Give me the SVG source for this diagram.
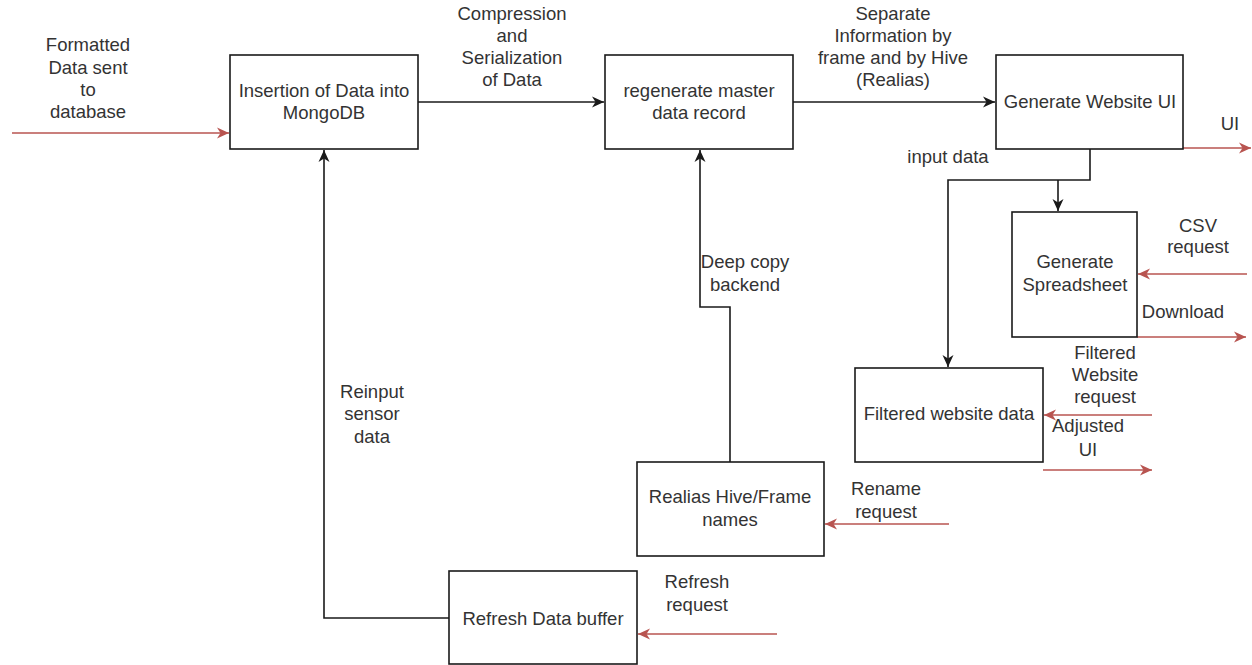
<svg xmlns="http://www.w3.org/2000/svg" width="1252" height="665" viewBox="0 0 1252 665">
  <style>
    .box { fill: #ffffff; stroke: #1a1a1a; stroke-width: 1.6; }
    .lbl { font-family: "Liberation Sans", Arial, sans-serif; font-size: 18.5px; fill: #333333; text-anchor: middle; }
    .flow { fill: none; stroke: #1a1a1a; stroke-width: 1.6; marker-end: url(#arrowBlack); }
    .ext { fill: none; stroke: #b85450; stroke-width: 1.4; marker-end: url(#arrowRed); }
  </style>
  <defs>
    <marker id="arrowBlack" markerUnits="userSpaceOnUse" markerWidth="14" markerHeight="12" viewBox="0 0 14 12" refX="12" refY="6" orient="auto">
      <path d="M0,0.5 L12,6 L0,11.5 L3.5,6 Z" fill="#1a1a1a"/>
    </marker>
    <marker id="arrowRed" markerUnits="userSpaceOnUse" markerWidth="14" markerHeight="12" viewBox="0 0 14 12" refX="12" refY="6" orient="auto">
      <path d="M0,0.5 L12,6 L0,11.5 L3.5,6 Z" fill="#b85450"/>
    </marker>
  </defs>

  <rect width="1252" height="665" fill="#ffffff"/>

  <!-- connectors -->
  <g id="connectors">
    <path class="ext" d="M12,133 H229"/>
    <path class="flow" d="M418,102 H604"/>
    <path class="flow" d="M793,102 H995"/>
    <path class="ext" d="M1183,148 H1251"/>
    <path class="flow" d="M1090,149 V180 H948 V367"/>
    <path class="flow" d="M1058,180 V211"/>
    <path class="ext" d="M1247,274 H1138"/>
    <path class="ext" d="M1137,337 H1246"/>
    <path class="ext" d="M1152,415 H1044"/>
    <path class="ext" d="M1043,470 H1152"/>
    <path class="flow" d="M730,462 V307 H700 V150"/>
    <path class="ext" d="M949,524 H825"/>
    <path class="flow" d="M449,618 H324 V150"/>
    <path class="ext" d="M777,634 H638"/>

    <text class="lbl" x="88" y="51">Formatted</text>
    <text class="lbl" x="88" y="74">Data sent</text>
    <text class="lbl" x="88" y="96">to</text>
    <text class="lbl" x="88" y="118">database</text>

    <text class="lbl" x="512" y="20">Compression</text>
    <text class="lbl" x="512" y="42">and</text>
    <text class="lbl" x="512" y="64">Serialization</text>
    <text class="lbl" x="512" y="86">of Data</text>

    <text class="lbl" x="893" y="20">Separate</text>
    <text class="lbl" x="893" y="42">Information by</text>
    <text class="lbl" x="893" y="64">frame and by Hive</text>
    <text class="lbl" x="893" y="86">(Realias)</text>

    <text class="lbl" x="1230" y="130">UI</text>
    <text class="lbl" x="948" y="163">input data</text>

    <text class="lbl" x="1198" y="232">CSV</text>
    <text class="lbl" x="1198" y="253">request</text>
    <text class="lbl" x="1183" y="318">Download</text>

    <text class="lbl" x="1105" y="359">Filtered</text>
    <text class="lbl" x="1105" y="381">Website</text>
    <text class="lbl" x="1105" y="403">request</text>
    <text class="lbl" x="1088" y="432">Adjusted</text>
    <text class="lbl" x="1088" y="456">UI</text>

    <text class="lbl" x="745" y="268">Deep copy</text>
    <text class="lbl" x="745" y="291">backend</text>

    <text class="lbl" x="372" y="398">Reinput</text>
    <text class="lbl" x="372" y="420">sensor</text>
    <text class="lbl" x="372" y="443">data</text>

    <text class="lbl" x="886" y="495">Rename</text>
    <text class="lbl" x="886" y="518">request</text>

    <text class="lbl" x="697" y="588">Refresh</text>
    <text class="lbl" x="697" y="611">request</text>
  </g>

  <!-- process nodes -->
  <g id="insert-mongodb">
    <rect class="box" x="230" y="55" width="188" height="94"/>
    <text class="lbl" x="324" y="97">Insertion of Data into</text>
    <text class="lbl" x="324" y="119">MongoDB</text>
  </g>

  <g id="master-record">
    <rect class="box" x="605" y="55" width="188" height="94"/>
    <text class="lbl" x="699" y="97">regenerate master</text>
    <text class="lbl" x="699" y="119">data record</text>
  </g>

  <g id="website-ui">
    <rect class="box" x="996" y="55" width="187" height="94"/>
    <text class="lbl" x="1090" y="108">Generate Website UI</text>
  </g>

  <g id="spreadsheet">
    <rect class="box" x="1012" y="212" width="125" height="125"/>
    <text class="lbl" x="1075" y="268">Generate</text>
    <text class="lbl" x="1075" y="291">Spreadsheet</text>
  </g>

  <g id="filtered-data">
    <rect class="box" x="855" y="368" width="188" height="94"/>
    <text class="lbl" x="949" y="420">Filtered website data</text>
  </g>

  <g id="realias-names">
    <rect class="box" x="637" y="462" width="187" height="94"/>
    <text class="lbl" x="730" y="503">Realias Hive/Frame</text>
    <text class="lbl" x="730" y="526">names</text>
  </g>

  <g id="refresh-buffer">
    <rect class="box" x="449" y="571" width="188" height="93"/>
    <text class="lbl" x="543" y="625">Refresh Data buffer</text>
  </g>
</svg>
